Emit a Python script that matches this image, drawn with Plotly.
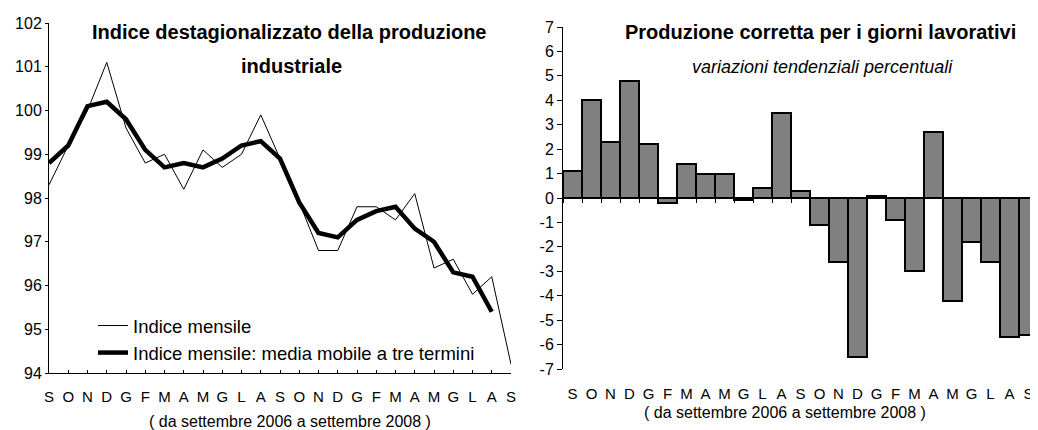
import plotly.graph_objects as go

# ---- data ----
month_labels = ["S", "O", "N", "D", "G", "F", "M", "A", "M", "G", "L", "A",
                "S", "O", "N", "D", "G", "F", "M", "A", "M", "G", "L", "A", "S"]

indice_mensile = [98.3, 99.2, 100.0, 101.1, 99.6, 98.8, 99.0, 98.2, 99.1, 98.7,
                  99.0, 99.9, 98.9, 97.9, 96.8, 96.8, 97.8, 97.8, 97.5, 98.1,
                  96.4, 96.6, 95.8, 96.2, 94.2]

media_mobile = [98.8, 99.2, 100.1, 100.2, 99.8, 99.1, 98.7, 98.8, 98.7, 98.9,
                99.2, 99.3, 98.9, 97.9, 97.2, 97.1, 97.5, 97.7, 97.8, 97.3,
                97.0, 96.3, 96.2, 95.4]

variazioni = [1.1, 4.0, 2.3, 4.8, 2.2, -0.2, 1.4, 1.0, 1.0, -0.1,
              0.4, 3.5, 0.3, -1.1, -2.6, -6.5, 0.1, -0.9, -3.0, 2.7,
              -4.2, -1.8, -2.6, -5.7, -5.6]

left_yticks = [94, 95, 96, 97, 98, 99, 100, 101, 102]
right_yticks = [-7, -6, -5, -4, -3, -2, -1, 0, 1, 2, 3, 4, 5, 6, 7]
right_ytick_text = ["-7", "-6", "-5", "-4", "-3", "-2", "-1", "0",
                    "1", "2", "3", "4", "5", "6", "7"]

title_left_1 = "Indice destagionalizzato della produzione"
title_left_2 = "industriale"
title_right = "Produzione corretta per i giorni lavorativi"
subtitle_right = "variazioni tendenziali percentuali"
period_text = "( da settembre 2006 a settembre 2008 )"
legend_names = ["Indice mensile", "Indice mensile: media mobile a tre termini"]

# ---- figure ----
idx = list(range(len(month_labels)))
bounds = [i - 0.5 for i in range(len(month_labels) + 1)]

# the page body has an 8px margin: the figure is drawn from (8, 8) of the window
OFF = 8
W, H = 1038 - OFF, 430 - OFF
FONT = "Liberation Sans, Arial, sans-serif"
TFONT = "Liberation Sans Narrow, Arial Narrow, Liberation Sans, Arial, sans-serif"

fig = go.Figure()
fig.add_trace(go.Scatter(x=idx, y=indice_mensile, mode="lines", name=legend_names[0],
                         line=dict(color="black", width=1), xaxis="x", yaxis="y"))
fig.add_trace(go.Scatter(x=idx[:len(media_mobile)], y=media_mobile, mode="lines",
                         name=legend_names[1], line=dict(color="black", width=4.5),
                         xaxis="x", yaxis="y"))
fig.add_trace(go.Bar(x=idx, y=variazioni, width=1, showlegend=False,
                     marker=dict(color="#808080", line=dict(color="black", width=2)),
                     xaxis="x2", yaxis="y2"))
fig.add_trace(go.Scatter(x=[], y=[], showlegend=False, xaxis="x3", yaxis="y2"))


def px_x(p):
    return (p - OFF) / W


def px_y(p):
    return 1 - (p - OFF) / H


def axis_common(size):
    return dict(showgrid=False, linecolor="black", linewidth=1, tickcolor="black",
                automargin=False, ticklabeloverflow="allow",
                tickfont=dict(family=FONT, size=size, color="black"))


fig.update_layout(
    template="none",
    width=W, height=H, margin=dict(l=0, r=0, t=0, b=0, pad=0),
    paper_bgcolor="white", plot_bgcolor="white",
    bargap=0,
    xaxis=dict(domain=[px_x(49), px_x(511)], range=[0, 24], anchor="y",
               tickvals=idx, ticktext=month_labels, ticks="inside", ticklen=3,
               showline=True, zeroline=False, ticklabelstandoff=10, **axis_common(15)),
    yaxis=dict(domain=[px_y(373), px_y(23)], range=[94, 102], tickvals=left_yticks,
               anchor="x", ticks="outside", ticklen=3, showline=True, zeroline=False,
               **axis_common(16)),
    xaxis2=dict(domain=[px_x(563), 1.0], range=[-0.5, 24.5], anchor="y2",
                tickvals=idx, ticktext=month_labels, ticks="", showline=False,
                zeroline=False, ticklabelstandoff=14, **axis_common(15)),
    yaxis2=dict(domain=[px_y(369), px_y(27)], range=[-7, 7], tickvals=right_yticks,
                ticktext=right_ytick_text, anchor="x2",
                ticks="outside", ticklen=5, showline=True, zeroline=True,
                zerolinecolor="black", zerolinewidth=1.5, **axis_common(16)),
    xaxis3=dict(overlaying="x2", anchor="free", position=px_y(198),
                range=[-0.5, 24.5], tickvals=bounds, ticks="outside", ticklen=4,
                showticklabels=False, showline=False, zeroline=False, showgrid=False,
                tickcolor="black", automargin=False),
    legend=dict(x=px_x(93), y=px_y(307), xanchor="left", yanchor="top",
                bgcolor="rgba(0,0,0,0)", font=dict(family=FONT, size=18.5, color="black"),
                tracegroupgap=0, itemwidth=30),
    showlegend=True,
)

ann = [
    dict(text=title_left_1, x=px_x(289), y=px_y(32), size=20, italic=False),
    dict(text=title_left_2, x=px_x(291), y=px_y(66), size=20, italic=False),
    dict(text=title_right, x=px_x(820), y=px_y(32), size=20, italic=False),
    dict(text=subtitle_right, x=px_x(822), y=px_y(67), size=18, italic=True),
]
for a in ann:
    fig.add_annotation(text=a["text"], x=a["x"], y=a["y"], xref="paper", yref="paper",
                       xanchor="center", yanchor="middle", showarrow=False,
                       font=dict(family=TFONT, size=a["size"], color="black",
                                 style="italic" if a["italic"] else "normal",
                                 weight="normal" if a["italic"] else "bold"))

for cx, cy in [(290, 421), (785, 412)]:
    fig.add_annotation(text=period_text, x=px_x(cx), y=px_y(cy), xref="paper", yref="paper",
                       xanchor="center", yanchor="middle", showarrow=False,
                       font=dict(family=FONT, size=16, color="black"))

fig.write_html("out.html")
